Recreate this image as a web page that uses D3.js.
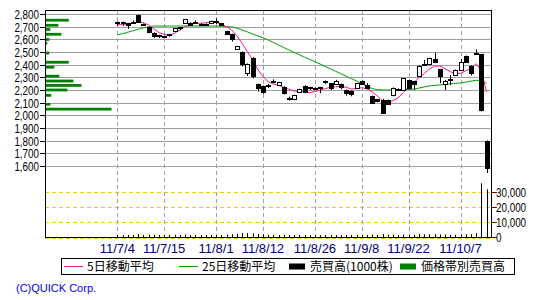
<!DOCTYPE html>
<html>
<head>
<meta charset="utf-8">
<script src="https://cdn.jsdelivr.net/npm/d3@7"></script>
<style>
  html, body { margin: 0; padding: 0; background: #fff; }
  svg { display: block; }
  text { font-family: "Liberation Sans", Arial, sans-serif; }
</style>
</head>
<body>
<svg id="chart" width="550" height="300"></svg>
<script>
// trading days, 2011
const dates = [
  "11/7/4","11/7/5","11/7/6","11/7/7","11/7/8","11/7/11","11/7/12","11/7/13","11/7/14","11/7/15",
  "11/7/19","11/7/20","11/7/21","11/7/22","11/7/25","11/7/26","11/7/27","11/7/28","11/7/29",
  "11/8/1","11/8/2","11/8/3","11/8/4","11/8/5","11/8/8","11/8/9","11/8/10","11/8/11","11/8/12",
  "11/8/15","11/8/16","11/8/17","11/8/18","11/8/19","11/8/22","11/8/23","11/8/24","11/8/25","11/8/26",
  "11/8/29","11/8/30","11/8/31","11/9/1","11/9/2","11/9/5","11/9/6","11/9/7","11/9/8","11/9/9",
  "11/9/12","11/9/13","11/9/14","11/9/15","11/9/16","11/9/20","11/9/21","11/9/22",
  "11/9/26","11/9/27","11/9/28","11/9/29","11/9/30","11/10/3","11/10/4","11/10/5","11/10/6","11/10/7",
  "11/10/11","11/10/12","11/10/13","11/10/14","11/10/17"
]
const open  = [2740,2738,2728,2735,2790,2722,2695,2652,2632,2628, 2640,2668,2694,2727,2731,2736,2725,2722,2726,
               2744,2726,2666,2642,2521,2503,2337,2450,2248,2232, 2232,2268,2237,2226,2130,2127,2187,2232,2215,2215,
               2222,2272,2253,2248,2248,2200,2195,2216,2268,2242, 2153,2127,2125,2122,2161,2208,2200,2279,
               2268,2311,2408,2400,2442,2363,2253,2285,2316,2358, 2469,2390,2492,2484,1800]
const high  = [2742,2740,2730,2750,2795,2724,2697,2655,2636,2630, 2642,2690,2697,2760,2735,2750,2727,2725,2748,
               2766,2730,2668,2645,2550,2505,2410,2462,2250,2236, 2248,2284,2265,2230,2148,2163,2210,2237,2225,2222,
               2225,2275,2255,2280,2252,2202,2197,2255,2275,2255, 2155,2130,2130,2125,2220,2212,2295,2282,
               2272,2395,2437,2455,2495,2365,2280,2317,2362,2442, 2472,2395,2520,2486,1802]
const low   = [2705,2706,2683,2722,2736,2706,2648,2612,2610,2615, 2622,2660,2670,2725,2705,2720,2705,2705,2722,
               2721,2705,2638,2582,2518,2385,2310,2292,2188,2170, 2215,2253,2235,2165,2117,2120,2180,2180,2200,2205,
               2174,2245,2200,2245,2205,2155,2150,2210,2245,2205, 2090,2110,2015,2085,2150,2195,2195,2205,
               2200,2305,2400,2395,2412,2253,2200,2240,2310,2355, 2420,2315,2480,2030,1545]
const close = [2733,2733,2713,2737,2737,2720,2658,2628,2622,2622, 2638,2688,2695,2758,2712,2738,2720,2722,2745,
               2746,2712,2640,2605,2548,2405,2405,2305,2218,2186, 2240,2272,2263,2180,2133,2161,2208,2186,2222,2216,
               2220,2271,2212,2271,2228,2180,2175,2253,2248,2216, 2097,2115,2025,2090,2214,2203,2292,2214,
               2245,2390,2405,2450,2416,2306,2274,2277,2358,2424, 2425,2335,2484,2045,1590]

// moving averages as drawn
const ma5  = [2716,2716,2721,2726,2737,2731,2713,2684,2653,2640, 2632,2648,2674,2700,2716,2726,2726,2731,2737,
              2734,2718,2700,2674,2626,2568,2503,2437,2363,2306, 2266,2247,2237,2221,2206,2192,2190,2184,2179,2187,
              2200,2211,2221,2226,2229,2221,2208,2211,2218,2211, 2187,2153,2116,2100,2116,2137,2180,2225,
              2260,2295,2330,2365,2388,2390,2370,2345,2328,2332, 2352,2368,2408,2350,2185]
const ma25 = [2634,2645,2656,2668,2679,2690,2700,2705,2705,2705, 2705,2705,2705,2705,2705,2705,2705,2705,2705,
              2705,2703,2701,2698,2688,2674,2659,2643,2628,2613, 2595,2576,2556,2536,2516,2497,2478,2459,2441,2423,
              2405,2386,2367,2348,2329,2310,2290,2271,2252,2230, 2212,2203,2200,2200,2200,2200,2202,2204,
              2207,2215,2224,2232,2236,2240,2244,2248,2252,2256, 2262,2270,2277,2273,2252]

// volume, 1000 shares
const volume = [1300,1200,1400,1300,2000,1300,1700,1600,1300,1200, 1300,1500,1300,1800,1300,1200,1200,1300,1400,
                1300,1300,1700,1800,2300,2700,2600,2500,2000,1800, 1400,1500,1300,1600,1500,1300,1400,1300,1200,1200,
                1200,1400,1300,1300,1200,1300,1400,1400,1300,1300, 1700,1400,2000,1600,1700,1300,1700,1600,
                1400,2000,1800,1700,1900,1700,1600,1500,1500,1700, 1700,1900,2500,35800,31800]

const priceTicks  = [2800,2700,2600,2500,2400,2300,2200,2100,2000,1900,1800,1700,1600]
const volumeTicks = [0,10000,20000,30000]
const labelDates  = ["11/7/4","11/7/15","11/8/1","11/8/12","11/8/26","11/9/8","11/9/22","11/10/7"]

// volume by price band
const histPrice  = [2751,2711,2678,2640,2599,2570,2492,2419,2380,2309,2271,2236,2200,2158,2087,2049]
const histVolume = [227,123,43,153,33,13,33,227,83,133,273,353,213,53,43,653]

const legendItems = [
  { label: "5日移動平均", kind: "line", color: "#ff1493", x: 64 },
  { label: "25日移動平均", kind: "line", color: "#00a000", x: 179 },
  { label: "売買高(1000株)", kind: "box", color: "#000000", x: 289 },
  { label: "価格帯別売買高", kind: "box", color: "#008000", x: 400 }
]

const plotLeft = 45, plotRight = 491, plotTop = 10, plotBottom = 237
const svg = d3.select("#chart")

const x = d3.scalePoint().domain(dates).range([117.3, 486.5])
const y = d3.scaleLinear().domain([1600, 2800]).range([166, 14])
const yVol = d3.scaleLinear().domain([0, 30000]).range([plotBottom, 192])
const xHist = d3.scaleLinear().domain([0, d3.max(histVolume)]).range([0, 65.5])

const px = v => Math.round(v) + 0.5

// price grid
svg.append("g").selectAll("line").data(priceTicks).join("line")
  .attr("x1", plotLeft).attr("x2", plotRight)
  .attr("y1", d => px(y(d))).attr("y2", d => px(y(d)))
  .attr("stroke", "#a0a0a0")

// volume grid
svg.append("g").selectAll("line").data(volumeTicks.filter(d => d > 0)).join("line")
  .attr("x1", plotLeft).attr("x2", plotRight)
  .attr("y1", d => px(yVol(d))).attr("y2", d => px(yVol(d)))
  .attr("stroke", "#f0c800").attr("stroke-dasharray", "4,3")

// date grid
svg.append("g").selectAll("line").data(labelDates).join("line")
  .attr("x1", d => px(x(d))).attr("x2", d => px(x(d)))
  .attr("y1", plotTop).attr("y2", plotBottom)
  .attr("stroke", "#a0a0a0").attr("stroke-dasharray", "4,3")

// volume by price
svg.append("g").selectAll("rect").data(histPrice).join("rect")
  .attr("x", plotLeft + 1)
  .attr("y", d => y(d + 11))
  .attr("width", (d, i) => xHist(histVolume[i]))
  .attr("height", d => y(d - 11) - y(d + 11))
  .attr("fill", "#008000")

// volume bars
svg.append("g").selectAll("line").data(dates).join("line")
  .attr("x1", d => px(x(d))).attr("x2", d => px(x(d)))
  .attr("y1", (d, i) => yVol(volume[i])).attr("y2", plotBottom)
  .attr("stroke", "#000")

// moving averages
const maLine = d3.line().x((d, i) => x(dates[i])).y(d => y(d))
svg.append("path").datum(ma25).attr("d", maLine)
  .attr("fill", "none").attr("stroke", "#00a000").attr("stroke-width", 1)
svg.append("path").datum(ma5).attr("d", maLine)
  .attr("fill", "none").attr("stroke", "#ff1493").attr("stroke-width", 1)

// candles
const candles = svg.append("g").selectAll("g").data(dates).join("g")
candles.append("line")
  .attr("x1", d => px(x(d))).attr("x2", d => px(x(d)))
  .attr("y1", (d, i) => y(high[i])).attr("y2", (d, i) => y(low[i]))
  .attr("stroke", "#000")
candles.append("rect")
  .attr("x", d => Math.round(x(d)) - 1.5)
  .attr("width", 4)
  .attr("y", (d, i) => Math.round(y(Math.max(open[i], close[i]))) + 0.5)
  .attr("height", (d, i) => Math.max(1, Math.round(y(Math.min(open[i], close[i])) - y(Math.max(open[i], close[i])))))
  .attr("fill", (d, i) => close[i] >= open[i] ? "#fff" : "#000")
  .attr("stroke", "#000")

// frame
svg.append("rect").attr("x", plotLeft + 0.5).attr("y", plotTop + 0.5)
  .attr("width", plotRight - plotLeft).attr("height", plotBottom - plotTop)
  .attr("fill", "none").attr("stroke", "#000")
svg.append("line").attr("x1", plotLeft).attr("x2", plotRight)
  .attr("y1", plotBottom + 1.5).attr("y2", plotBottom + 1.5)
  .attr("stroke", "#f0c800").attr("stroke-dasharray", "4,3")

// left price axis
const yAxis = svg.append("g").selectAll("g").data(priceTicks).join("g")
  .attr("transform", d => `translate(0,${px(y(d))})`)
yAxis.append("line").attr("x1", 40).attr("x2", plotLeft).attr("stroke", "#000")
yAxis.append("text")
  .attr("transform", "translate(39,4.5) scale(0.82,1)")
  .attr("text-anchor", "end").attr("font-size", 12)
  .text(d => d3.format(",")(d))

// right volume axis
const vAxis = svg.append("g").selectAll("g").data(volumeTicks).join("g")
  .attr("transform", d => `translate(0,${px(yVol(d))})`)
vAxis.append("line").attr("x1", plotRight + 1).attr("x2", plotRight + 6).attr("stroke", "#800000")
vAxis.append("text")
  .attr("transform", "translate(496,4.5) scale(0.82,1)")
  .attr("font-size", 12)
  .text(d => d3.format(",")(d))

// date labels
svg.append("g").selectAll("text").data(labelDates).join("text")
  .attr("x", d => x(d)).attr("y", 253)
  .attr("text-anchor", "middle").attr("font-size", 13).attr("fill", "#000080")
  .text(d => d)

// legend
svg.append("rect").attr("x", 61.5).attr("y", 258.5).attr("width", 453).attr("height", 16)
  .attr("fill", "#fff").attr("stroke", "#000")
const legend = svg.append("g").selectAll("g").data(legendItems).join("g")
  .attr("transform", d => `translate(${d.x},266.5)`)
legend.filter(d => d.kind === "line").append("line")
  .attr("x1", 0).attr("x2", 19).attr("stroke", d => d.color)
legend.filter(d => d.kind === "box").append("rect")
  .attr("x", 0).attr("y", -3).attr("width", 16).attr("height", 6).attr("fill", d => d.color)
legend.append("text")
  .attr("x", d => d.kind === "line" ? 23 : 21).attr("y", 4.5)
  .attr("font-size", 12)
  .style("font-family", "'Noto Sans CJK JP', sans-serif")
  .text(d => d.label)

svg.append("text").attr("x", 16).attr("y", 292)
  .attr("font-size", 11).attr("fill", "#0000ff")
  .text("(C)QUICK Corp.")
</script>
</body>
</html>
